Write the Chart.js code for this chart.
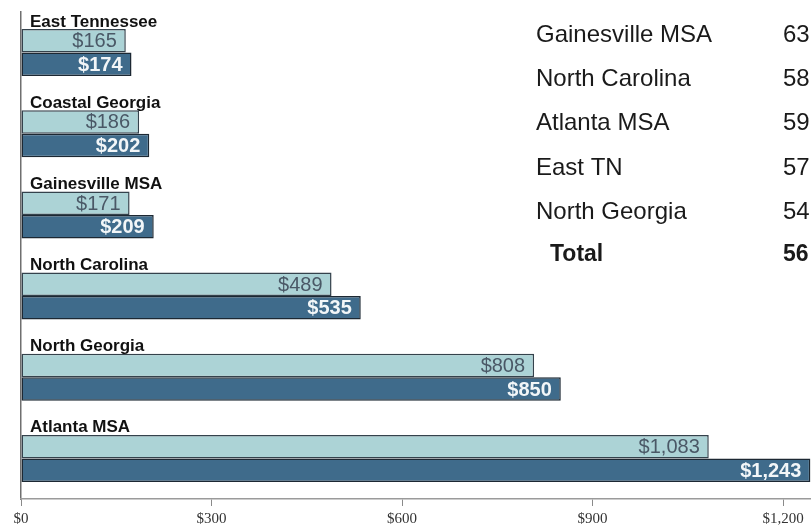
<!DOCTYPE html>
<html>
<head>
<meta charset="utf-8">
<title>Average cost by region</title>
<script src="https://cdn.jsdelivr.net/npm/chart.js@4/dist/chart.umd.min.js"></script>
<style>
  html, body { margin: 0; padding: 0; background: #ffffff; }
  #wrap { position: relative; width: 811px; height: 532px; overflow: hidden; }
  canvas { display: block; }
</style>
</head>
<body>
<div id="wrap"><canvas id="chart" width="811" height="532"></canvas></div>
<script>
// Regions, top to bottom
const regions = ['East Tennessee', 'Coastal Georgia', 'Gainesville MSA', 'North Carolina', 'North Georgia', 'Atlanta MSA'];
// Earlier period (light bars) and later period (dark bars), in dollars
const priorValues = [165, 186, 171, 489, 808, 1083];
const currentValues = [174, 202, 209, 535, 850, 1243];
// Axis ticks in dollars
const xTicks = [0, 300, 600, 900, 1200];

// Side table
const tableLabels = ['Gainesville MSA', 'North Carolina', 'Atlanta MSA', 'East TN', 'North Georgia'];
const tableValues = ['63', '58', '59', '57', '54'];
const totalLabel = 'Total';
const totalValue = '56';

const LIGHT = '#acd3d6';
const DARK = '#3f6b8b';
const EDGE = '#1c2833';

const money = v => '$' + v.toLocaleString('en-US');

// Region names above each pair of bars, and value labels inside the bar ends
const barText = {
  id: 'barText',
  afterDatasetsDraw(chart) {
    const ctx = chart.ctx;
    const left = chart.chartArea.left;
    const m0 = chart.getDatasetMeta(0);
    const m1 = chart.getDatasetMeta(1);
    ctx.save();
    regions.forEach((name, i) => {
      const b0 = m0.data[i];
      const b1 = m1.data[i];
      const top = b0.y - b0.height / 2;
      ctx.font = 'bold 17px "Liberation Sans", Arial, sans-serif';
      ctx.fillStyle = '#111111';
      ctx.textAlign = 'left';
      ctx.textBaseline = 'alphabetic';
      ctx.fillText(name, left + 9, top - 2.5);

      ctx.textAlign = 'right';
      ctx.textBaseline = 'middle';
      ctx.font = '20px "Liberation Sans", Arial, sans-serif';
      ctx.fillStyle = '#4a5866';
      ctx.fillText(money(priorValues[i]), b0.x - 9, b0.y + 1);
      ctx.font = 'bold 20px "Liberation Sans", Arial, sans-serif';
      ctx.fillStyle = '#f2f6f8';
      ctx.fillText(money(currentValues[i]), b1.x - 9, b1.y + 1);
    });
    ctx.restore();
  }
};

// Table of figures in the upper right
const sideTable = {
  id: 'sideTable',
  afterDraw(chart) {
    const ctx = chart.ctx;
    ctx.save();
    ctx.fillStyle = '#1a1a1a';
    ctx.textBaseline = 'middle';
    ctx.textAlign = 'left';
    ctx.font = '24px "Liberation Sans", Arial, sans-serif';
    tableLabels.forEach((t, i) => {
      const y = 35 + i * 44.3;
      ctx.fillText(t, 536, y);
      ctx.fillText(tableValues[i], 783, y);
    });
    ctx.font = 'bold 23px "Liberation Sans", Arial, sans-serif';
    ctx.fillText(totalLabel, 550, 255);
    ctx.fillText(totalValue, 783, 255);
    ctx.restore();
  }
};

new Chart(document.getElementById('chart'), {
  type: 'bar',
  data: {
    labels: regions,
    datasets: [
      {
        label: 'Prior',
        data: priorValues,
        backgroundColor: LIGHT,
        borderColor: '#34424c',
        borderWidth: 1.5,
        borderSkipped: false
      },
      {
        label: 'Current',
        data: currentValues,
        backgroundColor: DARK,
        borderColor: EDGE,
        borderWidth: 1.5,
        borderSkipped: false
      }
    ]
  },
  options: {
    indexAxis: 'y',
    responsive: false,
    animation: false,
    events: [],
    categoryPercentage: 0.58,
    barPercentage: 1.0,
    layout: { padding: { left: 21, top: 12, right: 0, bottom: 0 } },
    plugins: {
      legend: { display: false },
      tooltip: { enabled: false }
    },
    scales: {
      y: {
        type: 'category',
        offset: true,
        ticks: { display: false },
        grid: { display: false },
        border: { display: true, color: '#6f6f6f', width: 1.5 },
        afterFit(scale) { scale.width = 0; }
      },
      x: {
        type: 'linear',
        min: 0,
        max: 1244,
        afterBuildTicks(scale) {
          scale.ticks = xTicks.map(v => ({ value: v }));
        },
        ticks: {
          padding: 4,
          maxRotation: 0,
          color: '#333333',
          font: { family: '"Liberation Serif", "Times New Roman", serif', size: 15 },
          callback: v => money(v)
        },
        grid: {
          display: true,
          drawOnChartArea: false,
          drawTicks: true,
          tickLength: 7,
          color: '#8a8a8a',
          lineWidth: 1
        },
        border: { display: true, color: '#9a9a9a', width: 1.5 },
        afterFit(scale) { scale.height = 33; }
      }
    }
  },
  plugins: [barText, sideTable]
});
</script>
</body>
</html>
